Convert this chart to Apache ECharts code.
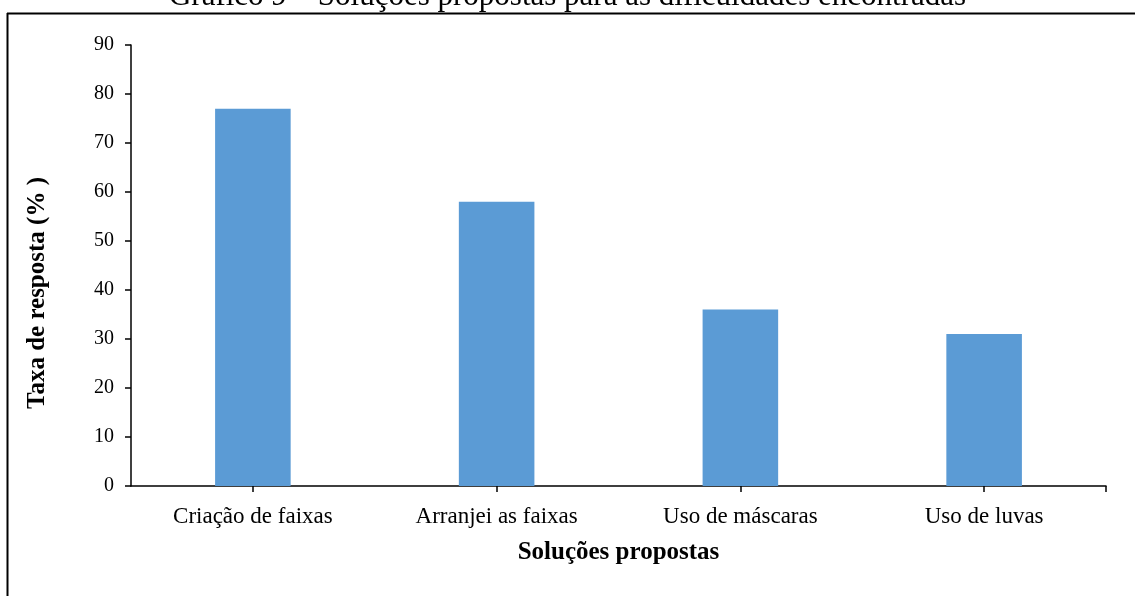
<!DOCTYPE html>
<html>
<head>
<meta charset="utf-8">
<script src="https://cdn.jsdelivr.net/npm/echarts@6/dist/echarts.min.js"></script>
<style>
html,body{margin:0;padding:0;background:#fff;}
#c{width:1135px;height:596px;}
</style>
</head>
<body>
<div id="c"></div>
<script>
const categories = ['Criação de faixas', 'Arranjei as faixas', 'Uso de máscaras', 'Uso de luvas'];
const values = [77, 58, 36, 31];
const yTicks = [0, 10, 20, 30, 40, 50, 60, 70, 80, 90];
const yAxisTitle = 'Taxa de resposta (% )';

const font = '"Liberation Serif", "Times New Roman", serif';
const chart = echarts.init(document.getElementById('c'), null, {renderer: 'canvas'});
const frame = [
  {type: 'line', shape: {x1: 7, y1: 13.5, x2: 1135, y2: 13.5}, style: {stroke: '#000', lineWidth: 2}},
  {type: 'line', shape: {x1: 7.5, y1: 13, x2: 7.5, y2: 596}, style: {stroke: '#000', lineWidth: 2}},
  {type: 'text', x: 38, y: 293, rotation: Math.PI / 2,
   style: {text: yAxisTitle, fill: '#000', font: 'bold 25px ' + font, textAlign: 'center', textVerticalAlign: 'middle'}}
];
chart.setOption({
  animation: false,
  backgroundColor: '#fff',
  title: {
    text: 'Gráfico 9 – Soluções propostas para as dificuldades encontradas',
    left: 'center',
    top: -24,
    textStyle: {fontFamily: font, fontSize: 31, fontWeight: 'normal', color: '#000'}
  },
  grid: {left: 131, right: 29, top: 45, bottom: 110, containLabel: false},
  xAxis: {
    type: 'category',
    data: categories,
    name: 'Soluções propostas',
    nameLocation: 'middle',
    nameGap: 54,
    nameTextStyle: {fontFamily: font, fontSize: 25, fontWeight: 'bold', color: '#000'},
    axisLine: {lineStyle: {color: '#000', width: 1.5}},
    axisTick: {show: true, alignWithLabel: true, length: 6, lineStyle: {color: '#000', width: 1.5}},
    axisLabel: {fontFamily: font, fontSize: 23, color: '#000', margin: 19}
  },
  yAxis: {
    type: 'value',
    min: yTicks[0],
    max: yTicks[yTicks.length - 1],
    interval: 10,
    axisLine: {show: true, lineStyle: {color: '#000', width: 1.5}},
    axisTick: {show: true, length: 6, lineStyle: {color: '#000', width: 1.5}},
    axisLabel: {fontFamily: font, fontSize: 20, color: '#000', margin: 17},
    splitLine: {show: false}
  },
  series: [{
    type: 'bar',
    data: values,
    barWidth: '31%',
    itemStyle: {color: '#5B9BD5'}
  }],
  graphic: frame
});
// closing tick at the right end of the category axis
const zero = chart.convertToPixel({yAxisIndex: 0}, 0);
const gridRect = chart.getModel().getComponent('grid').coordinateSystem.getRect();
chart.setOption({
  graphic: frame.concat([
    {type: 'line', shape: {x1: gridRect.x + gridRect.width, y1: zero, x2: gridRect.x + gridRect.width, y2: zero + 6}, style: {stroke: '#000', lineWidth: 1.5}}
  ])
});
</script>
</body>
</html>
